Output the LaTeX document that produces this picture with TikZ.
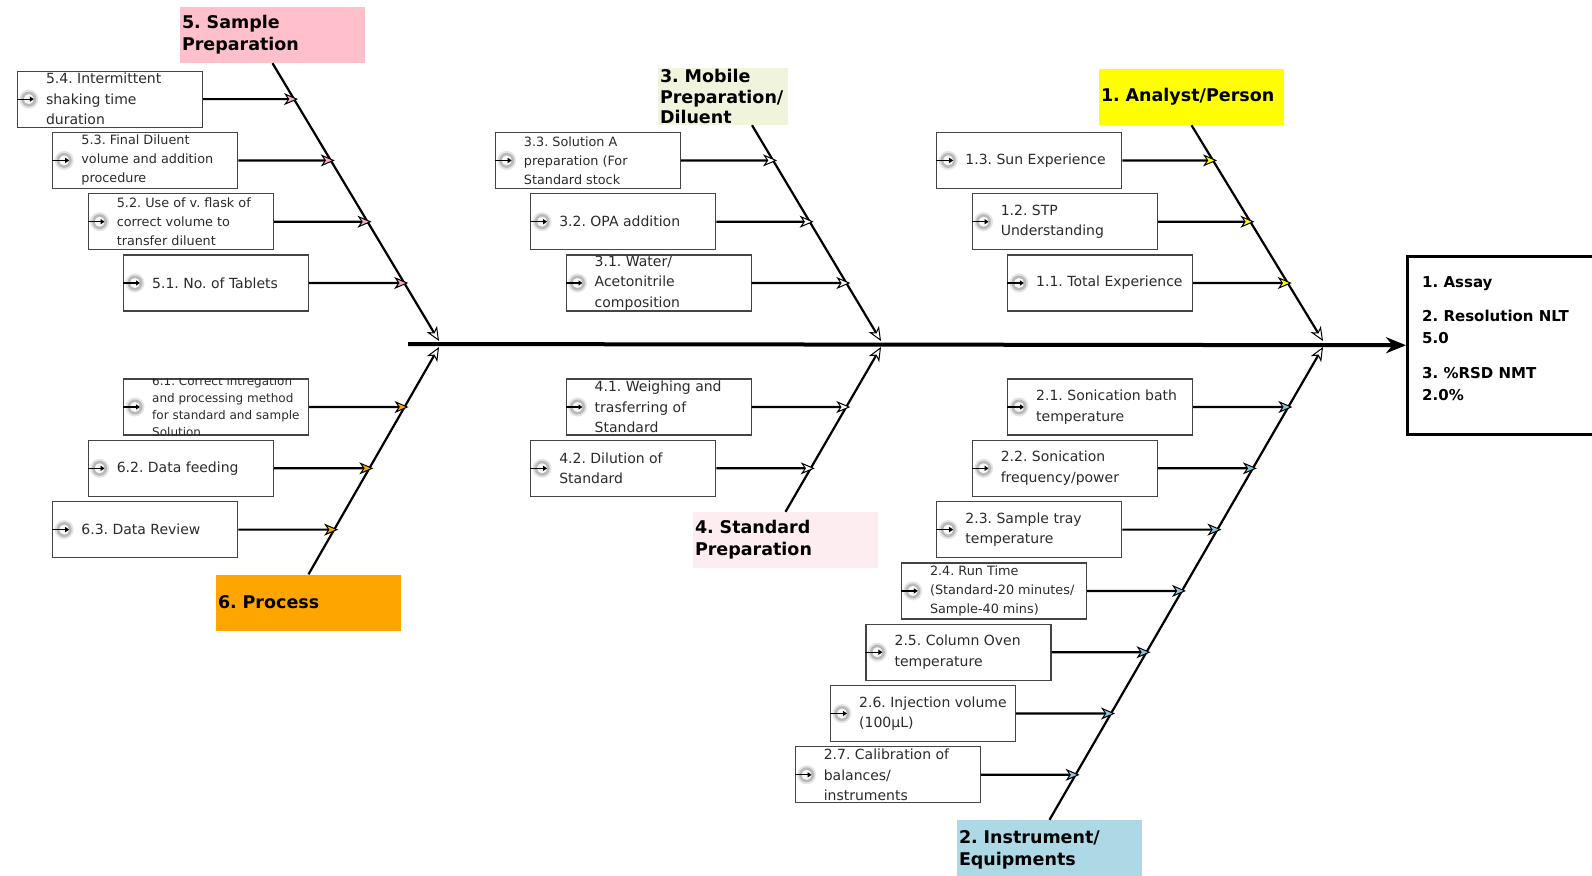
\documentclass[tikz,border=0pt]{standalone}
\usepackage{fontspec}
\setmainfont{DejaVu Sans}
\usetikzlibrary{arrows.meta,calc}
\frenchspacing
\definecolor{c5}{HTML}{FFC0CB}
\definecolor{c3}{HTML}{F1F4DC}
\definecolor{c1}{HTML}{FFFF00}
\definecolor{c6}{HTML}{FFA500}
\definecolor{c4}{HTML}{FDEDF0}
\definecolor{c2}{HTML}{ADD8E6}
\definecolor{pinkt}{HTML}{F7AFC0}
\definecolor{bluet}{HTML}{8CC8DC}
\definecolor{boxline}{HTML}{444444}
\definecolor{txt}{HTML}{2A2A2A}
\tikzset{
  cbox/.style={draw=boxline, line width=1.2pt, minimum width=185pt, minimum height=56pt, inner sep=0pt, anchor=west},
  ctext/.style={anchor=west, align=left, inner sep=0pt, text=txt, font=\fontsize{14}{20.5}\selectfont},
  small/.style={font=\fontsize{12.8}{19}\selectfont},
  tiny/.style={font=\fontsize{12}{17}\selectfont},
  lab/.style={inner xsep=2pt, inner ysep=0pt, minimum height=56pt, text width=181pt, align=left, anchor=center, font=\fontsize{17.5}{22}\bfseries\selectfont},
  bone/.style={line width=2.2pt, draw=black, -{Stealth[length=14pt,width=12pt,inset=4pt,fill=white,line width=1pt]}},
  branch/.style={line width=2.2pt, draw=black},
  spine/.style={line width=4pt, -{Stealth[length=20pt,width=16pt]}},
  iconarrow/.style={line width=1.2pt, -{Triangle[length=4pt,width=5pt]}},
}
\newcommand\fbCause[7]{%
  \node[cbox] (#1) at (#2,#3) {};
  \begin{scope}
    \clip (#1.north west) rectangle (#1.south east);
    \node[ctext,#4] (#1t) at ([xshift=29pt]#1.west) {#5};
  \end{scope}
  \fill[gray!22] ([xshift=12pt]#1.west) circle (9.5pt);
  \fill[gray!55] ([xshift=12pt]#1.west) circle (7.5pt);
  \fill[gray!6] ([xshift=12pt]#1.west) circle (5pt);
  \draw[iconarrow] (#1.west) -- ([xshift=17pt]#1.west);
  \coordinate (#1r) at ([xshift=200pt]#1.east);
  \coordinate (#1tip) at (intersection of #1.east--#1r and s#7--j#7);
  \draw[branch, -{Stealth[length=14pt,width=12pt,inset=4pt,fill=#6,line width=1pt]}] (#1.east) -- ([xshift=4pt]#1tip);
}
\begin{document}
\begin{tikzpicture}[x=1pt,y=-1pt]
\useasboundingbox (0,0) rectangle (1592,875);
\clip (0,0) rectangle (1592,875);
% category labels
\node[lab, fill=c5] (lab5) at (272.5,35) {5. Sample\\Preparation};
\node[lab, fill=c3, text width=126pt, minimum height=57pt, font=\fontsize{17.5}{20.5}\bfseries\selectfont] (lab3) at (723,96.5) {3. Mobile\\Preparation/\\Diluent};
\node[lab, fill=c1] (lab1) at (1191.5,97) {1. Analyst/Person};
\node[lab, fill=c6] (lab6) at (308.5,602.5) {6. Process};
\node[lab, fill=c4] (lab4) at (785.5,540) {4. Standard\\Preparation};
\node[lab, fill=c2, minimum height=60pt] (lab2) at (1049.5,850) {2. Instrument/\\Equipments};
% bone coordinates
\coordinate (s5) at (lab5.south);
\coordinate (j5) at (439,341);
\coordinate (s6) at (lab6.north);
\coordinate (j6) at (439,347);
\coordinate (s3) at ([xshift=29pt]lab3.south);
\coordinate (j3) at (881,341);
\coordinate (s4) at (lab4.north);
\coordinate (j4) at (881,347);
\coordinate (s1) at (lab1.south);
\coordinate (j1) at (1323,341);
\coordinate (s2) at (lab2.north);
\coordinate (j2) at (1323,347);
% result box and spine
\node[draw=black, line width=2.5pt, minimum width=214pt, minimum height=178pt, anchor=north west, inner sep=0pt] (res) at (1406,255) {};
\node[anchor=north west, align=left, inner sep=0pt, font=\fontsize{15}{22}\bfseries\selectfont] (rest) at (1422,276.5) {1. Assay\\[12pt]2. Resolution NLT\\5.0\\[13pt]3. \%RSD NMT\\2.0\%};
\coordinate (sp0) at (408,344);
\draw[spine] (sp0) -- (res.west);
% bones
\draw[bone] (s5) -- (j5);
\draw[bone] (s6) -- (j6);
\draw[bone] (s3) -- (j3);
\draw[bone] (s4) -- (j4);
\draw[bone] (s1) -- (j1);
\draw[bone] (s2) -- (j2);
% group 5
\fbCause{b51}{123}{283}{}{5.1. No. of Tablets}{pinkt}{5}
\fbCause{b52}{87.6}{221.7}{small}{5.2. Use of v. flask of\\correct volume to\\transfer diluent}{pinkt}{5}
\fbCause{b53}{52.2}{160.4}{small}{5.3. Final Diluent\\volume and addition\\procedure}{pinkt}{5}
\fbCause{b54}{16.8}{99.1}{}{5.4. Intermittent\\shaking time\\duration}{pinkt}{5}
% group 6
\fbCause{b61}{123}{407}{tiny}{6.1. Correct intregation\\and processing method\\for standard and sample\\Solution}{c6}{6}
\fbCause{b62}{87.6}{468.3}{}{6.2. Data feeding}{c6}{6}
\fbCause{b63}{52.2}{529.6}{}{6.3. Data Review}{c6}{6}
% group 3
\fbCause{b31}{565.5}{283}{}{3.1. Water/\\Acetonitrile\\composition}{white}{3}
\fbCause{b32}{530.1}{221.7}{}{3.2. OPA addition}{white}{3}
\fbCause{b33}{494.7}{160.4}{small}{3.3. Solution A\\preparation (For\\Standard stock}{white}{3}
% group 4
\fbCause{b41}{565.5}{407}{}{4.1. Weighing and\\trasferring of\\Standard}{white}{4}
\fbCause{b42}{530.1}{468.3}{}{4.2. Dilution of\\Standard}{white}{4}
% group 1
\fbCause{b11}{1007}{283}{}{1.1. Total Experience}{c1}{1}
\fbCause{b12}{971.6}{221.7}{}{1.2. STP\\Understanding}{c1}{1}
\fbCause{b13}{936.2}{160.4}{}{1.3. Sun Experience}{c1}{1}
% group 2
\fbCause{b21}{1007}{407}{}{2.1. Sonication bath\\temperature}{bluet}{2}
\fbCause{b22}{971.6}{468.3}{}{2.2. Sonication\\frequency/power}{bluet}{2}
\fbCause{b23}{936.2}{529.6}{}{2.3. Sample tray\\temperature}{bluet}{2}
\fbCause{b24}{900.8}{590.9}{small}{2.4. Run Time\\(Standard-20 minutes/\\Sample-40 mins)}{bluet}{2}
\fbCause{b25}{865.4}{652.2}{}{2.5. Column Oven\\temperature}{bluet}{2}
\fbCause{b26}{830}{713.5}{}{2.6. Injection volume\\(100µL)}{bluet}{2}
\fbCause{b27}{794.6}{774.8}{}{2.7. Calibration of\\balances/\\instruments}{bluet}{2}
\end{tikzpicture}
\end{document}
